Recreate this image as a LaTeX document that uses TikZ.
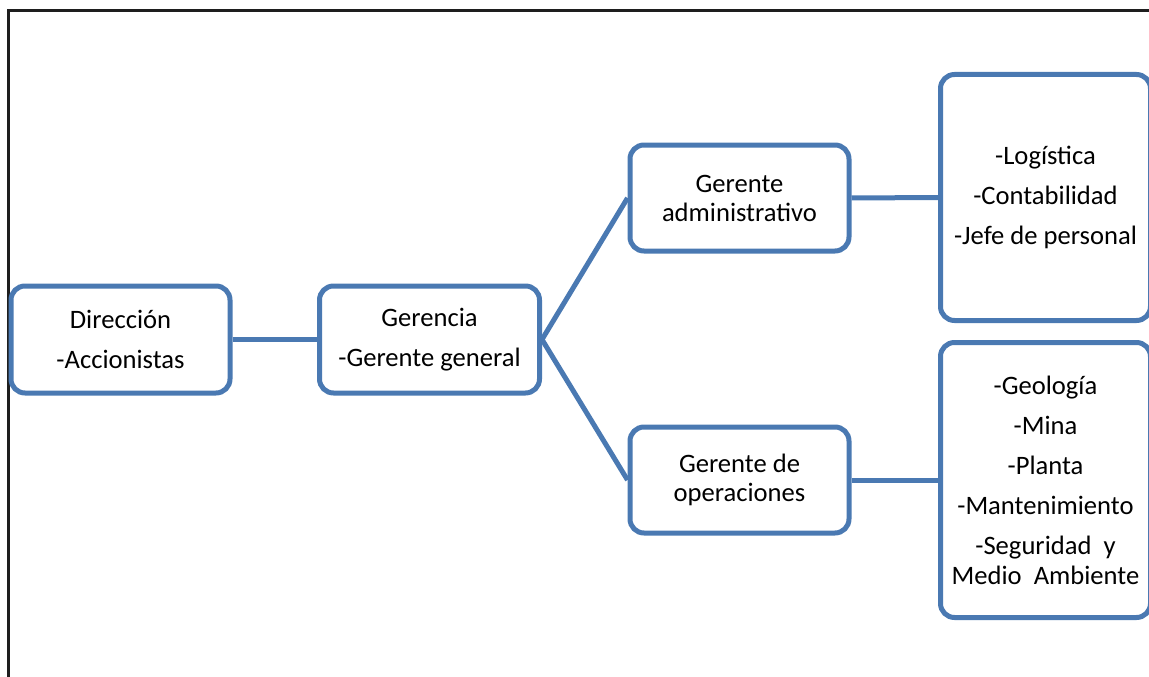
\documentclass[tikz,border=0pt]{standalone}
\usepackage{fontspec}
\setmainfont{Carlito}
\definecolor{boxblue}{RGB}{74,121,178}
\definecolor{framegray}{RGB}{30,30,30}
\begin{document}
\begin{tikzpicture}[x=1pt,y=-1pt,
  orgbox/.style={draw=boxblue, line width=5pt, rounded corners=14pt, fill=white,
    align=center, inner sep=0pt, font=\fontsize{26.6}{40}\selectfont},
  tightbox/.style={orgbox, font=\fontsize{26.6}{29}\selectfont},
  link/.style={draw=boxblue, line width=5pt}]
\useasboundingbox (0,0) rectangle (1149,677);
\clip (0,0) rectangle (1149,677);
\draw[framegray, line width=2.2pt] (8.5,677) -- (8.5,10.5) -- (1149,10.5);

\node[orgbox, minimum width=219pt, minimum height=107pt] (dir) at (120.5,339.5)
  {Dirección\\-Accionistas};
\node[orgbox, minimum width=220pt, minimum height=107pt] (ger) at (429.5,339.5)
  {Gerencia\\-Gerente general};
\node[tightbox, minimum width=219pt, minimum height=106pt] (adm) at (739.5,198)
  {Gerente\\administrativo};
\node[tightbox, minimum width=219pt, minimum height=106pt] (ops) at (739.5,480)
  {Gerente de\\operaciones};
\node[orgbox, minimum width=210pt, minimum height=246pt] (rt) at (1045.5,197.5)
  {-Logística\\-Contabilidad\\-Jefe de personal};
\node[orgbox, minimum width=210pt, minimum height=275pt] (rb) at (1045.5,480)
  {-Geología\\-Mina\\-Planta\\-Mantenimiento\\-Seguridad\ \ y\\[-10pt]Medio\ \ Ambiente};

\draw[link] (dir.east) -- (ger.west);
\draw[link] (ger.east) -- (adm.west);
\draw[link] (ger.east) -- (ops.west);
\draw[link] (adm.east) -- (rt.west);
\draw[link] (ops.east) -- (rb.west);
\end{tikzpicture}
\end{document}
